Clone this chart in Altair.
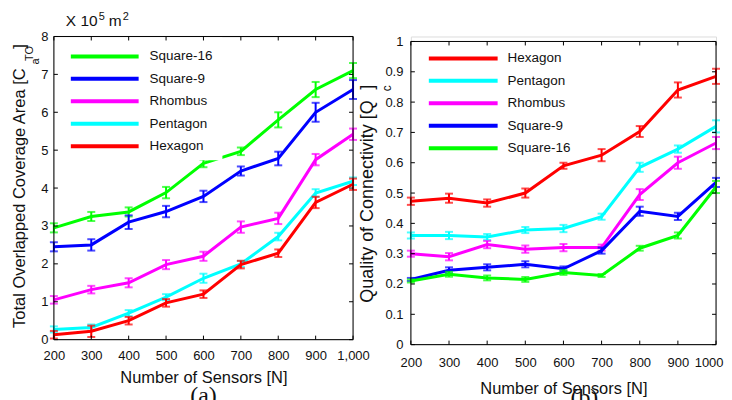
import altair as alt
import pandas as pd

# ---------------- data ----------------
sensors = [200, 300, 400, 500, 600, 700, 800, 900, 1000]

# panel (a): total overlapped coverage area (x 10^5 m^2)
names_a = ["Square-16", "Square-9", "Rhombus", "Pentagon", "Hexagon"]
cov_sq16 = [2.95, 3.25, 3.37, 3.88, 4.65, 4.97, 5.80, 6.60, 7.10]
cov_sq9 = [2.45, 2.50, 3.10, 3.38, 3.78, 4.45, 4.78, 6.00, 6.60]
cov_rho = [1.05, 1.32, 1.50, 1.98, 2.20, 2.97, 3.20, 4.75, 5.42]
cov_pen = [0.27, 0.32, 0.70, 1.12, 1.62, 2.00, 2.72, 3.87, 4.18]
cov_hex = [0.13, 0.22, 0.50, 0.97, 1.20, 1.98, 2.28, 3.62, 4.10]
err_sq16 = [0.12, 0.12, 0.12, 0.15, 0.10, 0.10, 0.20, 0.20, 0.20]
err_sq9 = [0.12, 0.15, 0.18, 0.15, 0.15, 0.12, 0.18, 0.25, 0.25]
err_rho = [0.10, 0.10, 0.12, 0.12, 0.12, 0.15, 0.15, 0.15, 0.15]
err_pen = [0.08, 0.08, 0.08, 0.08, 0.12, 0.08, 0.10, 0.10, 0.10]
err_hex = [0.10, 0.15, 0.10, 0.10, 0.10, 0.10, 0.10, 0.15, 0.15]

# panel (b): quality of connectivity
names_b = ["Hexagon", "Pentagon", "Rhombus", "Square-9", "Square-16"]
q_hex = [0.473, 0.483, 0.467, 0.500, 0.590, 0.625, 0.703, 0.840, 0.885]
q_pen = [0.360, 0.360, 0.355, 0.378, 0.383, 0.422, 0.585, 0.645, 0.720]
q_rho = [0.300, 0.290, 0.330, 0.315, 0.320, 0.320, 0.495, 0.600, 0.665]
q_sq9 = [0.215, 0.245, 0.255, 0.265, 0.250, 0.310, 0.440, 0.423, 0.535]
q_sq16 = [0.210, 0.232, 0.220, 0.215, 0.238, 0.228, 0.318, 0.360, 0.520]
qe_hex = [0.012, 0.015, 0.012, 0.015, 0.010, 0.020, 0.018, 0.025, 0.025]
qe_pen = [0.010, 0.012, 0.010, 0.010, 0.012, 0.010, 0.015, 0.012, 0.020]
qe_rho = [0.010, 0.012, 0.012, 0.012, 0.012, 0.010, 0.018, 0.020, 0.020]
qe_sq9 = [0.005, 0.010, 0.010, 0.010, 0.008, 0.010, 0.015, 0.012, 0.015]
qe_sq16 = [0.005, 0.008, 0.008, 0.008, 0.008, 0.005, 0.008, 0.010, 0.020]

colors = {"Square-16": "#00ff00", "Square-9": "#0000ff", "Rhombus": "#ff00ff",
          "Pentagon": "#00ffff", "Hexagon": "#ff0000"}

yticks_a = [0, 1, 2, 3, 4, 5, 6, 7, 8]
yticks_b = [0, 0.1, 0.2, 0.3, 0.4, 0.5, 0.6, 0.7, 0.8, 0.9, 1.0]

FONT = "Liberation Sans"
SERIF = "Liberation Serif"


def long_df(vals, errs):
    rows = []
    for name, v, e in zip(vals.keys(), vals.values(), errs.values()):
        for n, y, d in zip(sensors, v, e):
            rows.append({"series": name, "N": n, "value": y, "lo": y - d, "hi": y + d})
    return pd.DataFrame(rows)


df_a = long_df({"Square-16": cov_sq16, "Square-9": cov_sq9, "Rhombus": cov_rho,
                "Pentagon": cov_pen, "Hexagon": cov_hex},
               {"Square-16": err_sq16, "Square-9": err_sq9, "Rhombus": err_rho,
                "Pentagon": err_pen, "Hexagon": err_hex})
df_b = long_df({"Hexagon": q_hex, "Pentagon": q_pen, "Rhombus": q_rho,
                "Square-9": q_sq9, "Square-16": q_sq16},
               {"Hexagon": qe_hex, "Pentagon": qe_pen, "Rhombus": qe_rho,
                "Square-9": qe_sq9, "Square-16": qe_sq16})

one = pd.DataFrame({"k": [0]})


def txt(text, x, y, size, angle=0, align="center", baseline="middle", font=FONT):
    kw = dict(fontSize=size, font=font, color="#111111", align=align, baseline=baseline)
    if angle:
        kw["angle"] = angle
    return alt.Chart(pd.DataFrame({"t": [text]})).mark_text(**kw).encode(
        text="t:N", x=alt.value(x), y=alt.value(y))


def panel(df, names, W, H, top, ymax, yticks, xfmt, yfmt, lab_pad_x, title_pad_x,
          lab_pad_y, leg, extras, mask=None, last_right=False):
    bottom = top + H
    extra_ax = {}
    if last_right:
        extra_ax = dict(
            labelAlign=alt.condition("datum.value == 1000", alt.value("right"), alt.value("center")),
            labelOffset=alt.condition("datum.value == 1000", alt.value(7), alt.value(0)),
        )
    xs = alt.X("N:Q", scale=alt.Scale(domain=[200, 1000], nice=False, zero=False),
               axis=alt.Axis(values=sensors, format=xfmt, title="Number of Sensors [N]",
                             labelFlush=False, labelOverlap=False, ticks=False, domain=False,
                             grid=False, labelPadding=lab_pad_x, titlePadding=title_pad_x,
                             labelFont=FONT, labelFontSize=13, labelColor="#111111",
                             titleFont=FONT, titleFontSize=16.5, titleFontWeight="normal",
                             titleColor="#111111", **extra_ax))
    yscale = alt.Scale(domain=[0, ymax], range=[bottom, top], nice=False, zero=True)
    yaxis = alt.Axis(values=yticks, format=yfmt, title=None, ticks=False, domain=False,
                     grid=False, labelPadding=lab_pad_y, labelFont=FONT, labelFontSize=13,
                     labelColor="#111111", labelOverlap=False)

    def Y(field):
        return alt.Y(field, scale=yscale, axis=yaxis)

    layers = []
    base = alt.Chart(df)
    for name in names:
        c = colors[name]
        s = base.transform_filter(alt.datum.series == name)
        layers.append(s.mark_line(color=c, strokeWidth=3).encode(x=xs, y=Y("value:Q")))
        layers.append(s.mark_rule(color=c, strokeWidth=2).encode(
            x=xs, y=Y("lo:Q"), y2="hi:Q"))
        layers.append(s.mark_tick(color=c, orient="horizontal", size=8, thickness=2).encode(
            x=xs, y=Y("lo:Q")))
        layers.append(s.mark_tick(color=c, orient="horizontal", size=8, thickness=2).encode(
            x=xs, y=Y("hi:Q")))

    if mask is not None:
        layers.append(alt.Chart(one).mark_rect(color="white").encode(
            x=alt.value(mask[0]), x2=alt.value(mask[1]),
            y=alt.value(mask[2]), y2=alt.value(mask[3])))

    # legend (inside the plot, no frame)
    lx0, lx1, ltx, ly0, ldy = leg
    for i, name in enumerate(names):
        yy = ly0 + i * ldy
        layers.append(alt.Chart(one).mark_rule(color=colors[name], strokeWidth=4).encode(
            x=alt.value(lx0), x2=alt.value(lx1), y=alt.value(yy)))
        layers.append(txt(name, ltx, yy, 13.5, align="left"))

    # frame box
    for (xa, xb, ya, yb) in [(0, W, top, top), (0, W, bottom, bottom),
                             (0, 0, top, bottom), (W, W, top, bottom)]:
        layers.append(alt.Chart(one).mark_rule(color="black", strokeWidth=1).encode(
            x=alt.value(xa), x2=alt.value(xb), y=alt.value(ya), y2=alt.value(yb)))

    # inward ticks
    xt = pd.DataFrame({"N": sensors})
    yt = pd.DataFrame({"value": yticks})
    tl = 4
    layers.append(alt.Chart(xt).mark_rule(color="black", strokeWidth=1).encode(
        x=xs, y=alt.value(bottom), y2=alt.value(bottom - tl)))
    layers.append(alt.Chart(xt).mark_rule(color="black", strokeWidth=1).encode(
        x=xs, y=alt.value(top), y2=alt.value(top + tl)))
    layers.append(alt.Chart(yt).mark_rule(color="black", strokeWidth=1).encode(
        y=Y("value:Q"), x=alt.value(0), x2=alt.value(tl)))
    layers.append(alt.Chart(yt).mark_rule(color="black", strokeWidth=1).encode(
        y=Y("value:Q"), x=alt.value(W), x2=alt.value(W - tl)))

    layers.extend(extras)
    return alt.layer(*layers).properties(width=W, height=bottom)


W_A, H_A, TOP_A = 300, 304, 0
W_B, H_B, TOP_B = 306, 304, 5

extras_a = [
    txt("Total Overlapped Coverage Area [C", -34, 32, 16.5, angle=270, align="right"),
    txt("]", -34, 10, 16.5, angle=270),
    txt("TO", -24, 17, 11, angle=270),
    txt("a", -18, 25, 11, angle=270),
    txt("X 10", 12, -11, 15.5, align="left", baseline="alphabetic"),
    txt("5", 45, -17, 11, align="left", baseline="alphabetic"),
    txt("m", 55, -11, 15.5, align="left", baseline="alphabetic"),
    txt("2", 69, -17, 11, align="left", baseline="alphabetic"),
    txt("(a)", 150, 349, 24, baseline="top", font=SERIF),
]
extras_b = [
    txt("Quality of Connectivity [Q", -43, 64, 18, angle=270, align="right"),
    txt("]", -43, 51, 18, angle=270),
    txt("c", -24, 52, 12, angle=270),
    txt("(b)", 174, 351, 24, baseline="top", font=SERIF),
]

left = panel(df_a, names_a, W_A, H_A, TOP_A, 8, yticks_a, ",d", "d", 10, 7, 6,
             (17, 85, 96, 20, 22.5), extras_a, mask=(1, 169, 1, 124))
right = panel(df_b, names_b, W_B, H_B, TOP_B, 1, yticks_b, "d", ".1~f", 12, 11, 8,
              (18, 87, 97, 22, 22.5), extras_b, last_right=True)

chart = alt.hconcat(left, right, spacing=58, bounds="flush").properties(
    padding={"left": 3, "top": 1, "right": 0, "bottom": 0}
).configure_view(stroke=None).configure(background="white")

chart.save("out.html", embed_options={"renderer": "svg", "actions": False})
